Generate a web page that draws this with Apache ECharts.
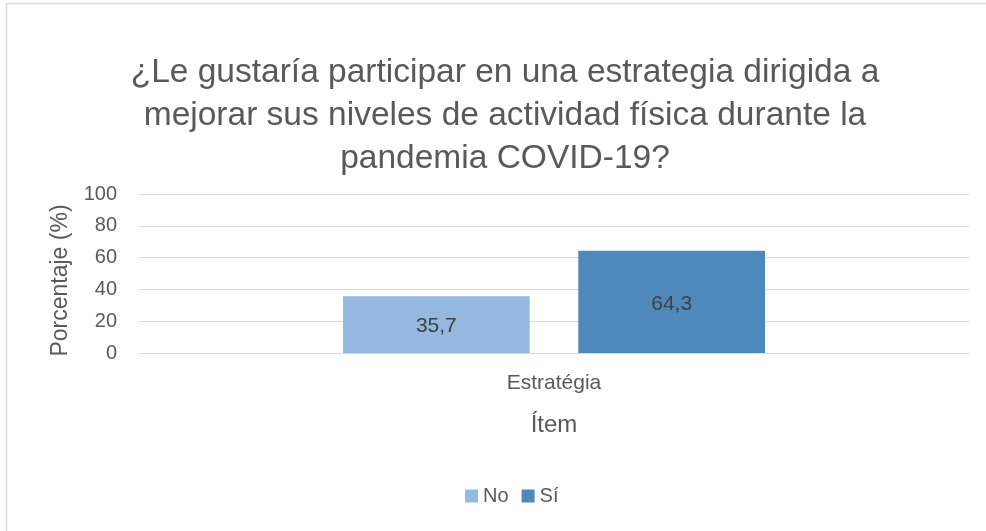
<!DOCTYPE html>
<html>
<head>
<meta charset="utf-8">
<script src="https://cdn.jsdelivr.net/npm/echarts@6/dist/echarts.min.js"></script>
<style>
  html, body { margin: 0; padding: 0; background: #fff; }
  #main { width: 986px; height: 531px; }
</style>
</head>
<body>
<div id="main"></div>
<script>
var categories = ['Estratégia'];
var seriesNames = ['No', 'Sí'];
var valuesNo = [35.7];
var valuesSi = [64.3];
var yTicks = [0, 20, 40, 60, 80, 100];

var font = 'Liberation Sans';
var textColor = '#595959';

var myChart = echarts.init(document.getElementById('main'));
var option = {
  animation: false,
  textStyle: { fontFamily: font },
  graphic: [{
    type: 'rect',
    shape: { x: 6.5, y: 3.5, width: 1000, height: 600 },
    style: { fill: 'none', stroke: '#d9d9d9', lineWidth: 1.5 },
    silent: true
  }],
  title: {
    text: '¿Le gustaría participar en una estrategia dirigida a\nmejorar sus niveles de actividad física durante la\npandemia COVID-19?',
    left: 500,
    textAlign: 'center',
    top: 46,
    textStyle: {
      fontFamily: font,
      fontWeight: 'normal',
      fontSize: 33.5,
      lineHeight: 43,
      color: textColor,
      align: 'center'
    }
  },
  legend: {
    data: seriesNames,
    top: 481,
    left: 460,
    itemWidth: 13,
    itemHeight: 13,
    itemGap: 13,
    icon: 'rect',
    textStyle: { fontSize: 20, color: textColor, fontFamily: font }
  },
  grid: { left: 139, right: 17, top: 194, bottom: 178 },
  xAxis: {
    type: 'category',
    data: categories,
    name: 'Ítem',
    nameLocation: 'middle',
    nameGap: 60,
    nameTextStyle: { fontSize: 24, color: textColor },
    axisLine: { lineStyle: { color: '#d9d9d9', width: 1 } },
    axisTick: { show: false },
    axisLabel: { fontSize: 21, color: textColor, margin: 20 }
  },
  yAxis: {
    type: 'value',
    min: yTicks[0],
    max: yTicks[yTicks.length - 1],
    interval: 20,
    name: 'Porcentaje (%)',
    nameLocation: 'middle',
    nameGap: 67,
    nameTextStyle: { fontSize: 23, color: textColor, padding: [0, 14, 0, 0] },
    axisLine: { show: false },
    axisTick: { show: false },
    axisLabel: { fontSize: 20, color: textColor, margin: 22 },
    splitLine: { lineStyle: { color: '#d9d9d9', width: 1 } }
  },
  series: [
    {
      name: seriesNames[0],
      type: 'bar',
      data: valuesNo,
      barWidth: '22.5%',
      barGap: '26%',
      itemStyle: { color: '#95b8de' },
      label: {
        show: true, position: 'inside', offset: [0, 2], fontSize: 21, color: '#404040',
        formatter: function (p) { return String(p.value).replace('.', ','); }
      }
    },
    {
      name: seriesNames[1],
      type: 'bar',
      data: valuesSi,
      barWidth: '22.5%',
      itemStyle: { color: '#4f89bb' },
      label: {
        show: true, position: 'inside', offset: [0, 2], fontSize: 21, color: '#404040',
        formatter: function (p) { return String(p.value).replace('.', ','); }
      }
    }
  ]
};
myChart.setOption(option);
</script>
</body>
</html>
